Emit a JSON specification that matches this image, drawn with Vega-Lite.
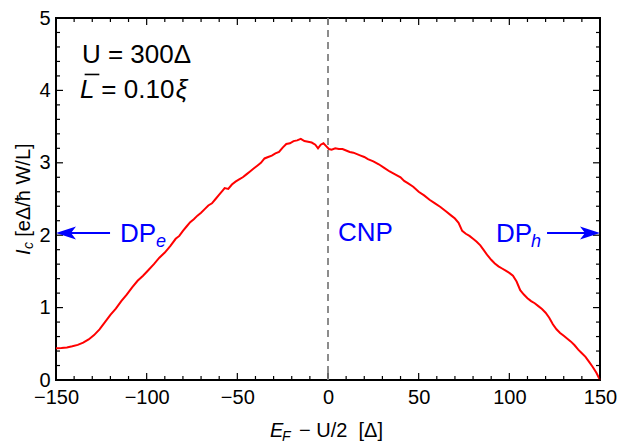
{
  "$schema": "https://vega.github.io/schema/vega-lite/v6.json",
  "width": 544,
  "height": 362,
  "autosize": "none",
  "padding": {"left": 56, "top": 18, "right": 30, "bottom": 63},
  "config": {
    "view": {"stroke": "black", "strokeWidth": 2},
    "font": "Liberation Sans",
    "text": {"font": "Liberation Sans"},
    "axis": {"domain": false, "grid": false, "title": null, "labelOverlap": false, "labelFlush": false}
  },
  "data": {"values": [{}]},
  "datasets": {
    "xmajor": [{"v": -150}, {"v": -100}, {"v": -50}, {"v": 0}, {"v": 50}, {"v": 100}, {"v": 150}],
    "xminor": [
      {"v": -140}, {"v": -130}, {"v": -120}, {"v": -110}, {"v": -90}, {"v": -80}, {"v": -70}, {"v": -60},
      {"v": -40}, {"v": -30}, {"v": -20}, {"v": -10}, {"v": 10}, {"v": 20}, {"v": 30}, {"v": 40},
      {"v": 60}, {"v": 70}, {"v": 80}, {"v": 90}, {"v": 110}, {"v": 120}, {"v": 130}, {"v": 140}
    ],
    "ymajor": [{"v": 0}, {"v": 1}, {"v": 2}, {"v": 3}, {"v": 4}, {"v": 5}],
    "yminor": [
      {"v": 0.2}, {"v": 0.4}, {"v": 0.6}, {"v": 0.8}, {"v": 1.2}, {"v": 1.4}, {"v": 1.6}, {"v": 1.8},
      {"v": 2.2}, {"v": 2.4}, {"v": 2.6}, {"v": 2.8}, {"v": 3.2}, {"v": 3.4}, {"v": 3.6}, {"v": 3.8},
      {"v": 4.2}, {"v": 4.4}, {"v": 4.6}, {"v": 4.8}
    ],
    "curve": [
      {"x": -150, "y": 0.44}, {"x": -147, "y": 0.442}, {"x": -144, "y": 0.45}, {"x": -141, "y": 0.465},
      {"x": -138, "y": 0.485}, {"x": -135, "y": 0.515}, {"x": -132, "y": 0.56}, {"x": -129, "y": 0.62},
      {"x": -126, "y": 0.7}, {"x": -123, "y": 0.8}, {"x": -120, "y": 0.9}, {"x": -117, "y": 0.985},
      {"x": -114, "y": 1.09}, {"x": -111, "y": 1.18}, {"x": -108, "y": 1.28}, {"x": -105, "y": 1.37},
      {"x": -102, "y": 1.44}, {"x": -99, "y": 1.52}, {"x": -96, "y": 1.6}, {"x": -93, "y": 1.69},
      {"x": -90, "y": 1.76}, {"x": -87, "y": 1.85}, {"x": -84, "y": 1.95}, {"x": -82, "y": 1.99},
      {"x": -80, "y": 2.06}, {"x": -78, "y": 2.12}, {"x": -76, "y": 2.18}, {"x": -74, "y": 2.22},
      {"x": -72, "y": 2.27}, {"x": -70, "y": 2.31}, {"x": -68, "y": 2.36}, {"x": -66, "y": 2.41},
      {"x": -64, "y": 2.44}, {"x": -62, "y": 2.5}, {"x": -60, "y": 2.56}, {"x": -58, "y": 2.62},
      {"x": -57, "y": 2.65}, {"x": -55, "y": 2.64}, {"x": -53, "y": 2.7}, {"x": -51, "y": 2.74},
      {"x": -49, "y": 2.77}, {"x": -47, "y": 2.8}, {"x": -45, "y": 2.84}, {"x": -43, "y": 2.88},
      {"x": -41, "y": 2.92}, {"x": -39, "y": 2.96}, {"x": -37, "y": 3.0}, {"x": -35, "y": 3.06},
      {"x": -33, "y": 3.08}, {"x": -31, "y": 3.1}, {"x": -29, "y": 3.13}, {"x": -27, "y": 3.15},
      {"x": -25, "y": 3.21}, {"x": -23, "y": 3.26}, {"x": -21, "y": 3.27}, {"x": -19, "y": 3.3},
      {"x": -17, "y": 3.31}, {"x": -15, "y": 3.33}, {"x": -13, "y": 3.3}, {"x": -11, "y": 3.29},
      {"x": -9, "y": 3.28}, {"x": -7, "y": 3.25}, {"x": -5.5, "y": 3.2}, {"x": -4, "y": 3.25},
      {"x": -2.5, "y": 3.27}, {"x": -1, "y": 3.23}, {"x": 0.5, "y": 3.19}, {"x": 2, "y": 3.18},
      {"x": 4, "y": 3.2}, {"x": 6, "y": 3.19}, {"x": 8, "y": 3.19}, {"x": 10, "y": 3.17},
      {"x": 12, "y": 3.15}, {"x": 14, "y": 3.14}, {"x": 16, "y": 3.12}, {"x": 18, "y": 3.1},
      {"x": 20, "y": 3.08}, {"x": 22, "y": 3.05}, {"x": 25, "y": 3.02}, {"x": 28, "y": 2.98},
      {"x": 31, "y": 2.93}, {"x": 34, "y": 2.88}, {"x": 37, "y": 2.84}, {"x": 40, "y": 2.8},
      {"x": 42, "y": 2.75}, {"x": 44, "y": 2.72}, {"x": 47, "y": 2.67}, {"x": 50, "y": 2.6},
      {"x": 53, "y": 2.55}, {"x": 56, "y": 2.49}, {"x": 59, "y": 2.44}, {"x": 62, "y": 2.39},
      {"x": 65, "y": 2.33}, {"x": 68, "y": 2.27}, {"x": 70, "y": 2.23}, {"x": 72, "y": 2.17},
      {"x": 74, "y": 2.06}, {"x": 76, "y": 2.02}, {"x": 78, "y": 1.99}, {"x": 80, "y": 1.95},
      {"x": 82, "y": 1.91}, {"x": 84, "y": 1.86}, {"x": 86, "y": 1.79}, {"x": 88, "y": 1.72},
      {"x": 90, "y": 1.66}, {"x": 92, "y": 1.61}, {"x": 94, "y": 1.57}, {"x": 96, "y": 1.54},
      {"x": 98, "y": 1.51}, {"x": 100, "y": 1.48}, {"x": 102, "y": 1.44}, {"x": 104, "y": 1.36},
      {"x": 106, "y": 1.24}, {"x": 108, "y": 1.18}, {"x": 110, "y": 1.13}, {"x": 112, "y": 1.09},
      {"x": 114, "y": 1.06}, {"x": 116, "y": 1.02}, {"x": 118, "y": 0.98}, {"x": 120, "y": 0.93},
      {"x": 122, "y": 0.86}, {"x": 124, "y": 0.77}, {"x": 126, "y": 0.7}, {"x": 128, "y": 0.65},
      {"x": 130, "y": 0.61}, {"x": 132, "y": 0.57}, {"x": 134, "y": 0.53}, {"x": 136, "y": 0.48},
      {"x": 138, "y": 0.42}, {"x": 140, "y": 0.37}, {"x": 142, "y": 0.32}, {"x": 144, "y": 0.25},
      {"x": 146, "y": 0.18}, {"x": 148, "y": 0.1}, {"x": 150, "y": 0.0}
    ]
  },
  "layer": [
    {
      "data": {"name": "curve"},
      "mark": {"type": "line", "color": "#ff0000", "strokeWidth": 2},
      "encoding": {
        "x": {
          "field": "x", "type": "quantitative",
          "scale": {"domain": [-150, 150], "nice": false, "zero": false},
          "axis": {
            "orient": "bottom", "ticks": false, "tickSize": 0,
            "values": [-150, -100, -50, 0, 50, 100, 150],
            "format": "d",
            "labelFont": "Liberation Sans", "labelFontSize": 20, "labelColor": "black",
            "labelPadding": 7
          }
        },
        "y": {
          "field": "y", "type": "quantitative",
          "scale": {"domain": [0, 5], "nice": false, "zero": false},
          "axis": {
            "orient": "left", "ticks": false, "tickSize": 0,
            "values": [0, 1, 2, 3, 4, 5],
            "format": "d",
            "labelFont": "Liberation Sans", "labelFontSize": 20, "labelColor": "black",
            "labelPadding": 6
          }
        }
      }
    },
    {
      "data": {"name": "xmajor"},
      "mark": {"type": "point", "shape": "M0,0L0,-2", "size": 49, "filled": false, "color": "black", "strokeWidth": 1.2, "opacity": 1},
      "encoding": {"x": {"field": "v", "type": "quantitative", "axis": null}, "y": {"datum": 0, "axis": null}}
    },
    {
      "data": {"name": "xminor"},
      "mark": {"type": "point", "shape": "M0,0L0,-2", "size": 16, "filled": false, "color": "black", "strokeWidth": 1.2, "opacity": 1},
      "encoding": {"x": {"field": "v", "type": "quantitative", "axis": null}, "y": {"datum": 0, "axis": null}}
    },
    {
      "data": {"name": "xmajor"},
      "mark": {"type": "point", "shape": "M0,0L0,2", "size": 49, "filled": false, "color": "black", "strokeWidth": 1.2, "opacity": 1},
      "encoding": {"x": {"field": "v", "type": "quantitative", "axis": null}, "y": {"datum": 5, "axis": null}}
    },
    {
      "data": {"name": "xminor"},
      "mark": {"type": "point", "shape": "M0,0L0,2", "size": 16, "filled": false, "color": "black", "strokeWidth": 1.2, "opacity": 1},
      "encoding": {"x": {"field": "v", "type": "quantitative", "axis": null}, "y": {"datum": 5, "axis": null}}
    },
    {
      "data": {"name": "ymajor"},
      "mark": {"type": "point", "shape": "M0,0L2,0", "size": 49, "filled": false, "color": "black", "strokeWidth": 1.2, "opacity": 1},
      "encoding": {"y": {"field": "v", "type": "quantitative", "axis": null}, "x": {"datum": -150, "axis": null}}
    },
    {
      "data": {"name": "yminor"},
      "mark": {"type": "point", "shape": "M0,0L2,0", "size": 16, "filled": false, "color": "black", "strokeWidth": 1.2, "opacity": 1},
      "encoding": {"y": {"field": "v", "type": "quantitative", "axis": null}, "x": {"datum": -150, "axis": null}}
    },
    {
      "data": {"name": "ymajor"},
      "mark": {"type": "point", "shape": "M0,0L-2,0", "size": 49, "filled": false, "color": "black", "strokeWidth": 1.2, "opacity": 1},
      "encoding": {"y": {"field": "v", "type": "quantitative", "axis": null}, "x": {"datum": 150, "axis": null}}
    },
    {
      "data": {"name": "yminor"},
      "mark": {"type": "point", "shape": "M0,0L-2,0", "size": 16, "filled": false, "color": "black", "strokeWidth": 1.2, "opacity": 1},
      "encoding": {"y": {"field": "v", "type": "quantitative", "axis": null}, "x": {"datum": 150, "axis": null}}
    },
    {
      "mark": {"type": "rule", "color": "#808080", "strokeWidth": 1.8, "strokeDash": [7, 5]},
      "encoding": {"x": {"datum": 0, "axis": null}}
    },
    {
      "mark": {"type": "rule", "color": "#0000ff", "strokeWidth": 2},
      "encoding": {"x": {"datum": -120.2, "axis": null}, "x2": {"datum": -146}, "y": {"datum": 2.03, "axis": null}}
    },
    {
      "mark": {"type": "point", "shape": "M0,0 L2,-0.65 L1.5,0 L2,0.65 Z", "size": 400, "filled": true, "color": "#0000ff", "opacity": 1, "strokeWidth": 0},
      "encoding": {"x": {"datum": -150, "axis": null}, "y": {"datum": 2.03, "axis": null}}
    },
    {
      "mark": {"type": "rule", "color": "#0000ff", "strokeWidth": 2},
      "encoding": {"x": {"datum": 120.8, "axis": null}, "x2": {"datum": 146}, "y": {"datum": 2.03, "axis": null}}
    },
    {
      "mark": {"type": "point", "shape": "M0,0 L-2,-0.65 L-1.5,0 L-2,0.65 Z", "size": 400, "filled": true, "color": "#0000ff", "opacity": 1, "strokeWidth": 0},
      "encoding": {"x": {"datum": 150, "axis": null}, "y": {"datum": 2.03, "axis": null}}
    },
    {
      "mark": {"type": "text", "text": "U = 300Δ", "align": "left", "baseline": "alphabetic", "fontSize": 26, "color": "black"},
      "encoding": {"x": {"datum": -135.7, "axis": null}, "y": {"datum": 4.374, "axis": null}}
    },
    {
      "mark": {"type": "text", "text": "L", "align": "left", "baseline": "alphabetic", "fontSize": 26, "fontStyle": "italic", "color": "black"},
      "encoding": {"x": {"datum": -136.8, "axis": null}, "y": {"datum": 3.891, "axis": null}}
    },
    {
      "mark": {"type": "rule", "color": "black", "strokeWidth": 1.6},
      "encoding": {"x": {"datum": -134.2, "axis": null}, "x2": {"datum": -126.1}, "y": {"datum": 4.22, "axis": null}}
    },
    {
      "mark": {"type": "text", "text": "= 0.10", "align": "left", "baseline": "alphabetic", "fontSize": 26, "color": "black"},
      "encoding": {"x": {"datum": -125.0, "axis": null}, "y": {"datum": 3.891, "axis": null}}
    },
    {
      "mark": {"type": "text", "text": "ξ", "align": "left", "baseline": "alphabetic", "fontSize": 26, "fontStyle": "italic", "color": "black"},
      "encoding": {"x": {"datum": -84.0, "axis": null}, "y": {"datum": 3.891, "axis": null}}
    },
    {
      "mark": {"type": "text", "text": "DP", "align": "left", "baseline": "alphabetic", "fontSize": 26, "color": "#0000ff"},
      "encoding": {"x": {"datum": -114.7, "axis": null}, "y": {"datum": 1.906, "axis": null}}
    },
    {
      "mark": {"type": "text", "text": "e", "align": "left", "baseline": "alphabetic", "fontSize": 18, "fontStyle": "italic", "color": "#0000ff"},
      "encoding": {"x": {"datum": -94.9, "axis": null}, "y": {"datum": 1.837, "axis": null}}
    },
    {
      "mark": {"type": "text", "text": "CNP", "align": "left", "baseline": "alphabetic", "fontSize": 26, "color": "#0000ff"},
      "encoding": {"x": {"datum": 5.5, "axis": null}, "y": {"datum": 1.92, "axis": null}}
    },
    {
      "mark": {"type": "text", "text": "DP", "align": "left", "baseline": "alphabetic", "fontSize": 26, "color": "#0000ff"},
      "encoding": {"x": {"datum": 92.6, "axis": null}, "y": {"datum": 1.906, "axis": null}}
    },
    {
      "mark": {"type": "text", "text": "h", "align": "left", "baseline": "alphabetic", "fontSize": 18, "fontStyle": "italic", "color": "#0000ff"},
      "encoding": {"x": {"datum": 111.9, "axis": null}, "y": {"datum": 1.837, "axis": null}}
    },
    {
      "mark": {"type": "text", "text": "E", "align": "left", "baseline": "alphabetic", "fontSize": 20, "fontStyle": "italic", "color": "black"},
      "encoding": {"x": {"datum": -32.0, "axis": null}, "y": {"datum": -0.785, "axis": null}}
    },
    {
      "mark": {"type": "text", "text": "F", "align": "left", "baseline": "alphabetic", "fontSize": 14, "fontStyle": "italic", "color": "black"},
      "encoding": {"x": {"datum": -25.4, "axis": null}, "y": {"datum": -0.84, "axis": null}}
    },
    {
      "mark": {"type": "text", "text": "− U/2 \u00a0[Δ]", "align": "left", "baseline": "alphabetic", "fontSize": 20, "color": "black"},
      "encoding": {"x": {"datum": -16.0, "axis": null}, "y": {"datum": -0.785, "axis": null}}
    },
    {
      "mark": {"type": "text", "text": "I", "align": "left", "baseline": "alphabetic", "angle": 270, "fontSize": 20, "fontStyle": "italic", "color": "black"},
      "encoding": {"x": {"datum": -164.3, "axis": null}, "y": {"datum": 1.727, "axis": null}}
    },
    {
      "mark": {"type": "text", "text": "c", "align": "left", "baseline": "alphabetic", "angle": 270, "fontSize": 14, "fontStyle": "italic", "color": "black"},
      "encoding": {"x": {"datum": -162.6, "axis": null}, "y": {"datum": 1.81, "axis": null}}
    },
    {
      "mark": {"type": "text", "text": "[eΔ/ħ W/L]", "align": "left", "baseline": "alphabetic", "angle": 270, "fontSize": 20, "color": "black"},
      "encoding": {"x": {"datum": -164.3, "axis": null}, "y": {"datum": 1.978, "axis": null}}
    }
  ],
  "resolve": {"axis": {"x": "independent", "y": "independent"}}
}
